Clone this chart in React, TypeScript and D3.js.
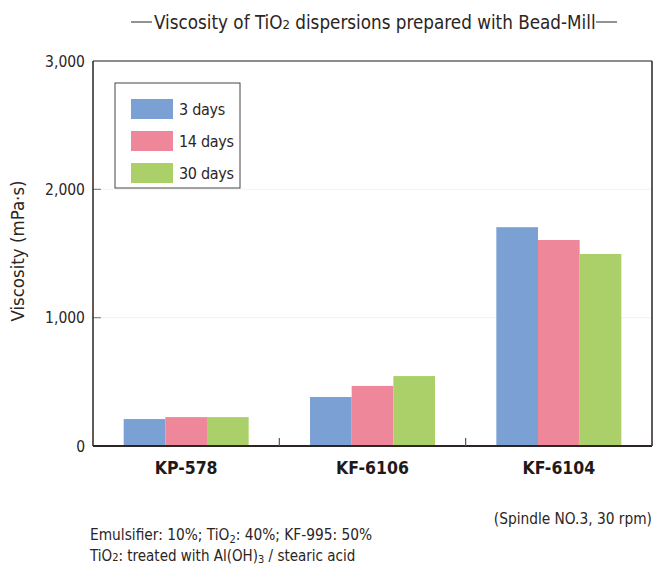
import React from "react";
import * as d3 from "d3";

const categories = ["KP-578", "KF-6106", "KF-6104"];
const seriesNames = ["3 days", "14 days", "30 days"];
const days3 = [210, 382, 1705];
const days14 = [225, 468, 1605];
const days30 = [225, 545, 1496];
const yTicks = [0, 1000, 2000, 3000];
const colors = ["#7ba0d4", "#ee8799", "#abd06a"];

const FONT = "'Liberation Sans Narrow', 'DejaVu Sans Condensed', 'Roboto', sans-serif";
const TEXT = "#2b2523";

export default function App() {
  const W = 654, H = 568;
  const left = 93, right = 652, top = 61, bottom = 446;
  const series = [days3, days14, days30];
  const x = d3.scaleBand<string>().domain(categories).range([left, right]).padding(0);
  const inner = d3.scaleBand<string>().domain(seriesNames).range([0, 125]).padding(0);
  const y = d3.scaleLinear().domain([0, 3000]).range([bottom, top]);
  const fmt = d3.format(",");
  const groupOffset = (x.bandwidth() - 125) / 2;

  return (
    <svg width={W} height={H} style={{ position: "absolute", left: 0, top: 0 }} fontFamily={FONT}>
      <rect x={0} y={0} width={W} height={H} fill="#fff" />
      {/* title */}
      <line x1={131} x2={152} y1={22} y2={22} stroke={TEXT} strokeWidth={1} />
      <text x={154} y={29} fontSize={18.7} fill={TEXT}>
        Viscosity of TiO<tspan fontSize={13}>2</tspan> dispersions prepared with Bead-Mill
      </text>
      <line x1={596} x2={617} y1={22} y2={22} stroke={TEXT} strokeWidth={1} />

      {/* gridlines */}
      {yTicks.slice(1, -1).map((t) => (
        <g key={t}>
          <line x1={left} x2={right} y1={y(t)} y2={y(t)} stroke="#f2f2f2" strokeWidth={1} />
          <line x1={left} x2={left + 8} y1={y(t)} y2={y(t)} stroke="#888" strokeWidth={1.2} />
        </g>
      ))}

      {/* bars */}
      {categories.map((c, i) => (
        <g key={c} transform={`translate(${(x(c) as number) + groupOffset},0)`}>
          {series.map((s, j) => (
            <rect
              key={j}
              x={inner(seriesNames[j])}
              y={y(s[i])}
              width={inner.bandwidth()}
              height={bottom - y(s[i])}
              fill={colors[j]}
            />
          ))}
        </g>
      ))}

      {/* frame */}
      <line x1={left} x2={right} y1={top} y2={top} stroke="#6b6565" strokeWidth={1.5} />
      <line x1={right} x2={right} y1={top} y2={bottom} stroke="#2b2523" strokeWidth={1.5} />
      <line x1={left} x2={left} y1={top} y2={bottom} stroke="#2b2523" strokeWidth={1.5} />
      <line x1={left} x2={right} y1={bottom} y2={bottom} stroke="#2b2523" strokeWidth={2} />
      {categories.slice(1).map((c) => (
        <line key={c} x1={x(c)} x2={x(c)} y1={bottom} y2={bottom - 8} stroke="#555" strokeWidth={1.2} />
      ))}

      {/* y tick labels */}
      {yTicks.map((t) => (
        <text key={t} x={85} y={y(t) + 5.5} fontSize={15.5} textAnchor="end" fill={TEXT}>
          {fmt(t)}
        </text>
      ))}
      <text
        transform={`translate(24,${251}) rotate(-90)`}
        fontSize={18.5}
        textAnchor="middle"
        fill={TEXT}
      >
        Viscosity (mPa·s)
      </text>

      {/* category labels */}
      {categories.map((c) => (
        <text
          key={c}
          x={(x(c) as number) + x.bandwidth() / 2}
          y={474}
          fontSize={17.5}
          fontWeight="bold"
          textAnchor="middle"
          fill="#1f1a1a"
        >
          {c}
        </text>
      ))}

      {/* legend */}
      <rect x={115} y={83} width={125} height={105} fill="#fff" stroke="#444" strokeWidth={1} />
      {seriesNames.map((n, j) => (
        <g key={n} transform={`translate(131,${99 + j * 32})`}>
          <rect x={0} y={0} width={42} height={20} fill={colors[j]} />
          <text x={48} y={15.5} fontSize={16} fill={TEXT} letterSpacing={-0.3}>
            {n}
          </text>
        </g>
      ))}

      {/* notes */}
      <text x={652} y={524} fontSize={15.3} textAnchor="end" fill={TEXT}>
        (Spindle NO.3, 30 rpm)
      </text>
      <text x={90} y={540} fontSize={15.3} fill={TEXT}>
        Emulsifier: 10%; TiO<tspan fontSize={11} dy={2.5}>2</tspan>
        <tspan dy={-2.5}>: 40%; KF-995: 50%</tspan>
      </text>
      <text x={90} y={561} fontSize={15} fill={TEXT}>
        TiO<tspan fontSize={11}>2</tspan>: treated with Al(OH)<tspan fontSize={11} dy={2}>3</tspan>
        <tspan dy={-2}> / stearic acid</tspan>
      </text>
    </svg>
  );
}
